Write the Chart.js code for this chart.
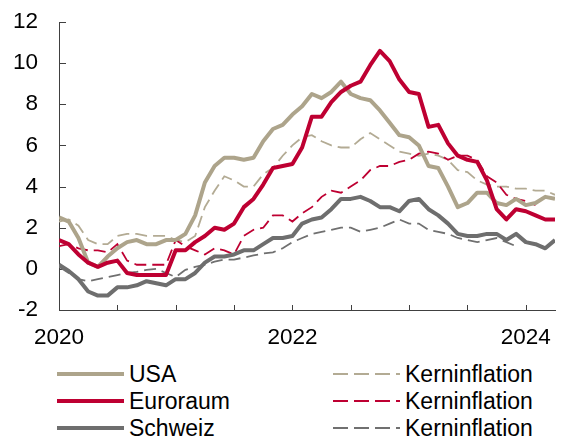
<!DOCTYPE html>
<html>
<head>
<meta charset="utf-8">
<script src="https://cdn.jsdelivr.net/npm/chart.js@4/dist/chart.umd.min.js"></script>
<style>
  html, body { margin: 0; padding: 0; background: #fff; }
  body { width: 563px; height: 439px; position: relative; overflow: hidden;
         font-family: 'Liberation Sans', Arial, sans-serif; }
  #c { position: absolute; left: 0; top: 0; }
  .lg { position: absolute; font-size: 23px; line-height: 26px; color: #000; white-space: nowrap; }
  .sw { position: absolute; width: 67px; height: 0; }
</style>
</head>
<body>
<canvas id="c" width="563" height="350" style="width:563px;height:350px"></canvas>
<div id="legend"></div>
<script>
// Months: Jan 2020 (index 0) .. Apr 2024 (index 51)
const MONTHS = Array.from({length: 52}, (_, i) => i);
const X_TICKS = [0, 6, 12, 18, 24, 30, 36, 42, 48];
const X_LABELS = {0: '2020', 24: '2022', 48: '2024'};
const Y_TICKS = [-2, 0, 2, 4, 6, 8, 10, 12];

const usa = [2.5, 2.3, 1.5, 0.3, 0.1, 0.6, 1.0, 1.3, 1.4, 1.2, 1.2, 1.4,
             1.4, 1.7, 2.6, 4.2, 5.0, 5.4, 5.4, 5.3, 5.4, 6.2, 6.8, 7.0,
             7.5, 7.9, 8.5, 8.3, 8.6, 9.1, 8.5, 8.3, 8.2, 7.7, 7.1, 6.5,
             6.4, 6.0, 5.0, 4.9, 4.0, 3.0, 3.2, 3.7, 3.7, 3.2, 3.1, 3.4,
             3.1, 3.2, 3.5, 3.4];
const usaCore = [2.3, 2.4, 2.1, 1.4, 1.2, 1.2, 1.6, 1.7, 1.7, 1.6, 1.6, 1.6,
                 1.4, 1.3, 1.6, 3.0, 3.8, 4.5, 4.3, 4.0, 4.0, 4.6, 4.9, 5.5,
                 6.0, 6.4, 6.5, 6.2, 6.0, 5.9, 5.9, 6.3, 6.6, 6.3, 6.0, 5.7,
                 5.6, 5.5, 5.6, 5.5, 5.3, 4.8, 4.7, 4.3, 4.1, 4.0, 4.0, 3.9,
                 3.9, 3.8, 3.8, 3.6];
const euro = [1.4, 1.2, 0.7, 0.3, 0.1, 0.3, 0.4, -0.2, -0.3, -0.3, -0.3, -0.3,
              0.9, 0.9, 1.3, 1.6, 2.0, 1.9, 2.2, 3.0, 3.4, 4.1, 4.9, 5.0,
              5.1, 5.9, 7.4, 7.4, 8.1, 8.6, 8.9, 9.1, 9.9, 10.6, 10.1, 9.2,
              8.6, 8.5, 6.9, 7.0, 6.1, 5.5, 5.3, 5.2, 4.3, 2.9, 2.4, 2.9,
              2.8, 2.6, 2.4, 2.4];
const euroCore = [1.1, 1.2, 1.0, 0.9, 0.9, 0.8, 1.2, 0.4, 0.2, 0.2, 0.2, 0.2,
                  1.4, 1.1, 0.9, 0.7, 1.0, 0.9, 0.7, 1.6, 1.9, 2.0, 2.6, 2.6,
                  2.3, 2.7, 3.0, 3.5, 3.8, 3.7, 4.0, 4.3, 4.8, 5.0, 5.0, 5.2,
                  5.3, 5.6, 5.7, 5.6, 5.3, 5.5, 5.5, 5.3, 4.5, 4.2, 3.6, 3.4,
                  3.3, 3.1, null, null];
const swiss = [0.2, -0.1, -0.5, -1.1, -1.3, -1.3, -0.9, -0.9, -0.8, -0.6, -0.7, -0.8,
               -0.5, -0.5, -0.2, 0.3, 0.6, 0.6, 0.7, 0.9, 0.9, 1.2, 1.5, 1.5,
               1.6, 2.2, 2.4, 2.5, 2.9, 3.4, 3.4, 3.5, 3.3, 3.0, 3.0, 2.8,
               3.3, 3.4, 2.9, 2.6, 2.2, 1.7, 1.6, 1.6, 1.7, 1.7, 1.4, 1.7,
               1.3, 1.2, 1.0, 1.4];
const swissCore = [0.1, -0.2, -0.5, -0.6, -0.5, -0.4, -0.3, -0.2, -0.15, -0.05, 0.0, -0.2,
                   -0.4, -0.05, 0.1, 0.2, 0.35, 0.45, 0.45, 0.55, 0.65, 0.75, 0.8, 1.0,
                   1.3, 1.5, 1.7, 1.8, 1.9, 2.0, 2.0, 1.8, 1.9, 2.0, 2.2, 2.4,
                   2.2, 2.2, 1.9, 1.8, 1.7, 1.5, 1.4, 1.3, 1.4, 1.5, 1.3, 1.1,
                   null, null, null, null];

const C_USA = '#ADA48B', C_USA_CORE = '#B3AB94';
const C_EUR = '#BE0032', C_EUR_CORE = '#BE0032';
const C_CH  = '#6E6E6E', C_CH_CORE  = '#707070';
const FONT = "'Liberation Sans', Arial, sans-serif";

function pts(arr) { return MONTHS.map((m, i) => ({x: m, y: arr[i]})); }
function solid(label, arr, color, order) {
  return {label, data: pts(arr), borderColor: color, backgroundColor: color,
          borderWidth: 4, pointRadius: 0, tension: 0, borderJoinStyle: 'round',
          spanGaps: false, order};
}
function dashed(label, arr, color, order) {
  return {label, data: pts(arr), borderColor: color, backgroundColor: color,
          borderWidth: 1.8, borderDash: [12, 6], pointRadius: 0, tension: 0,
          spanGaps: false, order};
}

const innerTicks = {
  id: 'innerTicks',
  beforeDatasetsDraw(chart) {
    const ctx = chart.ctx, xs = chart.scales.x, ys = chart.scales.y;
    const a = chart.chartArea;
    ctx.save();
    ctx.strokeStyle = '#404040';
    ctx.lineWidth = 1;
    ctx.beginPath();
    X_TICKS.forEach(v => {
      const px = Math.round(xs.getPixelForValue(v)) + 0.5;
      ctx.moveTo(px, a.bottom); ctx.lineTo(px, a.bottom - 5);
    });
    Y_TICKS.forEach(v => {
      const py = Math.round(ys.getPixelForValue(v)) + 0.5;
      ctx.moveTo(a.left, py); ctx.lineTo(a.left + 7, py);
    });
    ctx.stroke();
    ctx.restore();
  }
};

new Chart(document.getElementById('c'), {
  type: 'line',
  data: {
    datasets: [
      solid('USA', usa, C_USA, 2),
      dashed('Kerninflation', usaCore, C_USA_CORE, 5),
      solid('Euroraum', euro, C_EUR, 1),
      dashed('Kerninflation', euroCore, C_EUR_CORE, 4),
      solid('Schweiz', swiss, C_CH, 3),
      dashed('Kerninflation', swissCore, C_CH_CORE, 6)
    ]
  },
  options: {
    responsive: false,
    animation: false,
    layout: { padding: { left: 0, right: 8, top: 22, bottom: 0 } },
    plugins: { legend: { display: false }, tooltip: { enabled: false } },
    scales: {
      x: {
        type: 'linear', min: 0, max: 51,
        afterBuildTicks: s => { s.ticks = X_TICKS.map(v => ({value: v})); },
        afterFit: s => { s.height = 40; s.paddingLeft = 0; s.paddingRight = 0; },
        grid: { display: false, drawTicks: false },
        border: { display: true, color: '#404040', width: 1 },
        ticks: {
          autoSkip: false, maxRotation: 0, padding: 14, color: '#000',
          font: { family: FONT, size: 22.5 },
          callback: v => X_LABELS[v] !== undefined ? X_LABELS[v] : ''
        }
      },
      y: {
        min: -2, max: 12,
        afterBuildTicks: s => { s.ticks = Y_TICKS.map(v => ({value: v})); },
        afterFit: s => { s.width = 59; s.paddingTop = 0; s.paddingBottom = 0; },
        grid: { display: false, drawTicks: false },
        border: { display: true, color: '#404040', width: 1 },
        ticks: {
          padding: 21, color: '#000',
          font: { family: FONT, size: 22.5 }
        }
      }
    }
  },
  plugins: [innerTicks]
});

// HTML legend
const LEGEND = [
  {label: 'USA', color: C_USA, dash: false, col: 0, row: 0},
  {label: 'Kerninflation', color: C_USA_CORE, dash: true, col: 1, row: 0},
  {label: 'Euroraum', color: C_EUR, dash: false, col: 0, row: 1},
  {label: 'Kerninflation', color: C_EUR_CORE, dash: true, col: 1, row: 1},
  {label: 'Schweiz', color: C_CH, dash: false, col: 0, row: 2},
  {label: 'Kerninflation', color: C_CH_CORE, dash: true, col: 1, row: 2}
];
const rowY = [374, 401, 428];
const colX = [57, 333];
const lg = document.getElementById('legend');
LEGEND.forEach(it => {
  const cy = rowY[it.row];
  const sw = document.createElement('div');
  sw.className = 'sw';
  sw.style.left = colX[it.col] + 'px';
  if (it.dash) {
    sw.style.top = (cy - 1) + 'px';
    sw.style.height = '2px';
    sw.style.background = `repeating-linear-gradient(90deg, ${it.color} 0 15px, transparent 15px 21px)`;
  } else {
    sw.style.top = (cy - 2) + 'px';
    sw.style.height = '4px';
    sw.style.background = it.color;
  }
  lg.appendChild(sw);
  const t = document.createElement('div');
  t.className = 'lg';
  t.style.left = (colX[it.col] + 72) + 'px';
  t.style.top = (cy - 13) + 'px';
  t.textContent = it.label;
  lg.appendChild(t);
});
</script>
</body>
</html>
